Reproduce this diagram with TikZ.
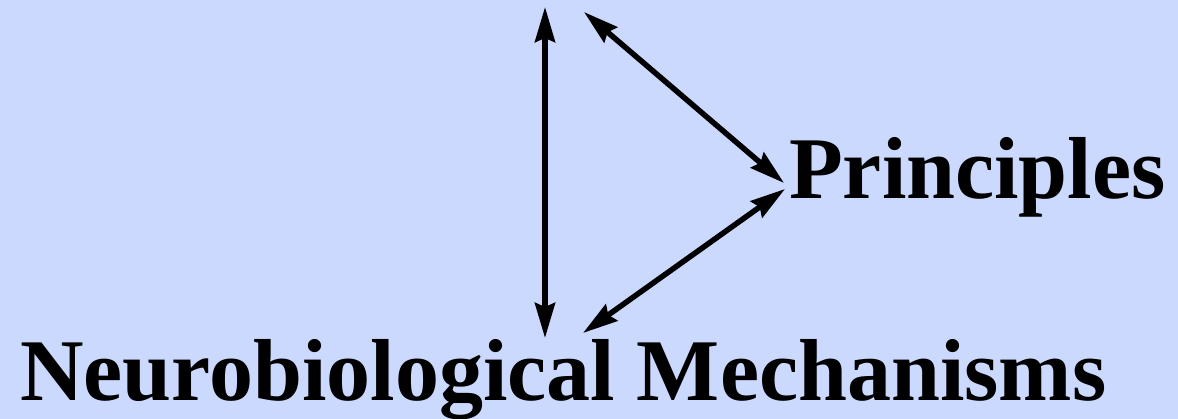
\documentclass[tikz,border=0pt]{standalone}
\usepackage{fontspec}
\setmainfont{Liberation Serif}
\usetikzlibrary{arrows.meta, positioning}
\definecolor{PaleBlue}{RGB}{204, 217, 255}

\begin{document}
\begin{tikzpicture}[x=1pt, y=-1pt,
        label/.style={anchor=base west, inner sep=0pt, font=\fontsize{88}{100}\selectfont\bfseries},
        link/.style={line width=5.5pt, {Stealth[length=35pt, width=20pt, inset=4pt]}-{Stealth[length=35pt, width=20pt, inset=4pt]}}]
    % Background
    \fill[PaleBlue] (0,0) rectangle (1178,419);
    \useasboundingbox (0,0) rectangle (1178,419);
    % Labels
    \node[label] (principles) at (789,199) {Principles};
    \node[label] (mechanisms) at (20,401) {Neurobiological Mechanisms};
    % Arrow ends
    \coordinate (topA) at (545,7);
    \coordinate (topB) at (584,12);
    \coordinate (prinA) at (784,183);
    \coordinate (prinB) at (785,189);
    \coordinate (mechA) at (545,338);
    \coordinate (mechB) at (583,333);
    % Links
    \draw[link] (topA) -- (mechA);
    \draw[link] (topB) -- (prinA);
    \draw[link] (prinB) -- (mechB);
\end{tikzpicture}
\end{document}
